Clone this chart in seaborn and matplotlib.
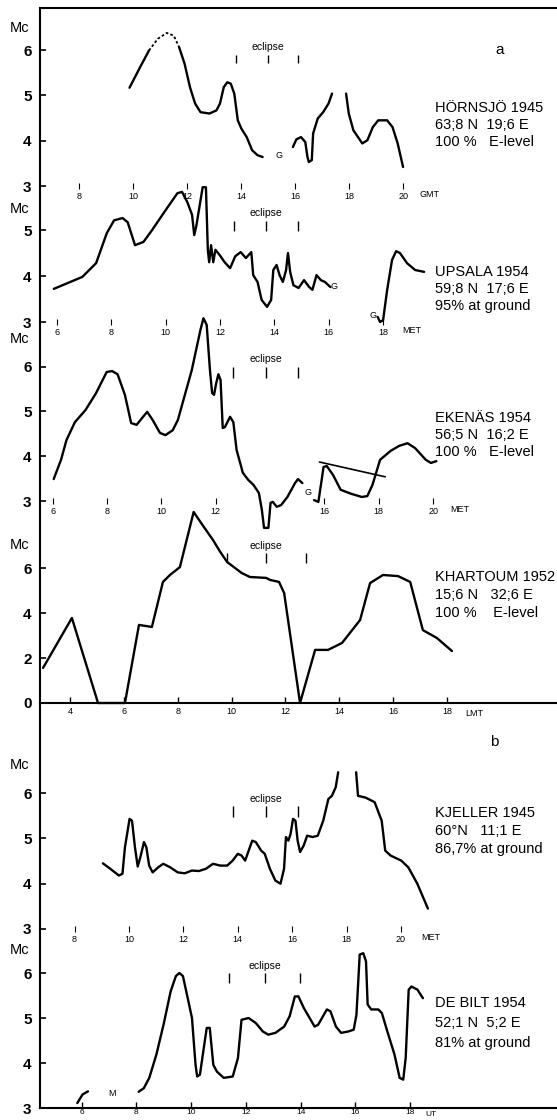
import matplotlib
matplotlib.use('Agg')
import matplotlib.pyplot as plt
import seaborn as sns

# Values: time of day (hours) and critical frequency (Mc)

# Hornsjo 1945 (GMT)
HORN_A_T = [9.87, 10.26, 10.59]
HORN_A_MC = [5.17, 5.62, 5.99]
HORN_DASH_T = [10.59, 10.92, 11.25, 11.51, 11.71]
HORN_DASH_MC = [5.99, 6.25, 6.38, 6.32, 6.06]
HORN_B_T = [11.71, 11.91, 12.11, 12.3, 12.5, 12.83, 13.09, 13.22, 13.36, 13.49,
            13.62, 13.75, 13.88, 14.01, 14.21, 14.41, 14.61, 14.8]
HORN_B_MC = [6.06, 5.7, 5.18, 4.82, 4.63, 4.6, 4.67, 4.82, 5.18, 5.29,
             5.26, 5.04, 4.45, 4.27, 4.08, 3.79, 3.68, 3.64]
HORN_C_T = [15.92, 16.05, 16.22, 16.38, 16.46, 16.51, 16.62, 16.67, 16.84, 17.04, 17.24, 17.37]
HORN_C_MC = [3.86, 4.03, 4.08, 3.97, 3.64, 3.53, 3.57, 4.16, 4.49, 4.63, 4.82, 5.04]
HORN_D_T = [17.89, 17.99, 18.16, 18.49, 18.68, 18.88, 19.08, 19.41, 19.61, 19.8, 20.0]
HORN_D_MC = [5.04, 4.6, 4.23, 3.94, 4.01, 4.3, 4.45, 4.45, 4.3, 3.94, 3.42]
HORN_ECLIPSE = [13.82, 15.0, 16.12]

# Upsala 1954 (MET)
UPS_A_T = [5.88, 6.93, 7.44, 7.83, 8.10, 8.41, 8.6, 8.87, 9.18, 9.5, 9.96, 10.43, 10.6,
           10.8, 10.97, 11.05, 11.13, 11.36, 11.48, 11.55, 11.6, 11.67, 11.75, 11.83,
           11.98, 12.17, 12.37, 12.56, 12.76, 12.95, 13.15, 13.22, 13.38, 13.53, 13.73,
           13.88, 13.96, 14.08, 14.19, 14.31, 14.43, 14.5, 14.58, 14.7, 14.89, 15.09,
           15.28, 15.4, 15.55, 15.71, 15.86, 16.06]
UPS_A_MC = [3.72, 3.98, 4.28, 4.93, 5.21, 5.26, 5.17, 4.67, 4.74, 5.0, 5.4, 5.8, 5.83,
            5.6, 5.33, 4.89, 5.1, 5.93, 5.93, 4.57, 4.3, 4.67, 4.3, 4.57,
            4.46, 4.3, 4.17, 4.43, 4.52, 4.39, 4.52, 4.02, 3.87, 3.48, 3.33,
            3.48, 4.13, 4.24, 4.02, 3.87, 4.13, 4.5, 4.09, 3.8, 3.74, 3.91,
            3.76, 3.7, 4.02, 3.91, 3.87, 3.76]
UPS_B_T = [17.8, 17.89, 18.0, 18.15, 18.33, 18.48, 18.62, 18.88, 19.18, 19.51]
UPS_B_MC = [3.11, 3.0, 3.04, 3.7, 4.35, 4.54, 4.5, 4.28, 4.13, 4.09]
UPS_ECLIPSE = [12.52, 13.68, 14.86]

# Ekenas 1954 (MET)
EKE_A_T = [6.04, 6.31, 6.51, 6.82, 7.21, 7.6, 7.99, 8.19, 8.39, 8.66, 8.89, 9.09, 9.29,
           9.48, 9.68, 9.95, 10.15, 10.42, 10.61, 11.12, 11.44, 11.55, 11.67, 11.79,
           11.87, 11.94, 12.02, 12.1, 12.18, 12.26, 12.34, 12.53, 12.65, 12.77, 13.0,
           13.2, 13.39, 13.59, 13.7, 13.78, 13.94, 14.02, 14.1, 14.25, 14.41, 14.64,
           14.92, 15.03, 15.19]
EKE_A_MC = [3.49, 3.92, 4.36, 4.76, 5.03, 5.41, 5.88, 5.9, 5.83, 5.37, 4.74, 4.7, 4.85,
            4.99, 4.81, 4.52, 4.47, 4.58, 4.81, 5.92, 6.82, 7.08, 6.93, 5.92,
            5.41, 5.37, 5.63, 5.83, 5.7, 4.63, 4.65, 4.88, 4.76, 4.14, 3.63,
            3.47, 3.36, 3.18, 2.8, 2.4, 2.4, 2.96, 2.98, 2.87, 2.91, 3.09,
            3.4, 3.49, 3.4]
EKE_B_T = [15.62, 15.78, 15.9, 15.97, 16.09, 16.32, 16.6, 16.99, 17.38, 17.58, 17.77,
           18.05, 18.44, 18.75, 19.06, 19.34, 19.73, 19.92, 20.12]
EKE_B_MC = [3.02, 2.98, 3.47, 3.76, 3.78, 3.58, 3.25, 3.16, 3.09, 3.11, 3.36,
            3.92, 4.12, 4.23, 4.29, 4.18, 3.92, 3.85, 3.89]
EKE_LINE_T = [15.82, 18.24]
EKE_LINE_MC = [3.87, 3.54]
EKE_ECLIPSE = [12.62, 13.86, 15.03]

# Khartoum 1952 (LMT)
KHA_T = [3.0, 4.07, 5.04, 6.04, 6.56, 7.04, 7.45, 7.71, 8.08, 8.59, 8.92, 9.31, 9.57,
         9.83, 10.37, 10.68, 11.28, 11.43, 11.76, 11.95, 12.54, 13.1, 13.58, 14.1,
         14.77, 15.14, 15.62, 16.18, 16.63, 17.1, 17.62, 18.18]
KHA_MC = [1.56, 3.78, 0.0, 0.0, 3.47, 3.38, 5.38, 5.69, 6.04, 8.49, 7.91, 7.24, 6.73,
          6.27, 5.78, 5.6, 5.56, 5.47, 5.38, 4.89, 0.0, 2.36, 2.36, 2.67,
          3.69, 5.33, 5.69, 5.64, 5.38, 3.24, 2.89, 2.31]
KHA_ECLIPSE = [9.84, 11.29, 12.77]

# Kjeller 1945 (MET)
KJE_A_T = [9.04, 9.31, 9.63, 9.76, 9.85, 10.02, 10.11, 10.22, 10.32, 10.42, 10.55, 10.64,
           10.74, 10.87, 11.07, 11.26, 11.52, 11.79, 12.05, 12.31, 12.57, 12.83, 13.09,
           13.35, 13.61, 13.81, 14.0, 14.14, 14.27, 14.4, 14.53, 14.66, 14.86, 14.99,
           15.18, 15.38, 15.57, 15.7, 15.77, 15.86, 15.94, 16.03, 16.12, 16.2, 16.29,
           16.42, 16.55, 16.75, 16.94, 17.14, 17.33, 17.46, 17.6, 17.69]
KJE_A_MC = [4.45, 4.33, 4.18, 4.22, 4.8, 5.43, 5.39, 4.8, 4.38, 4.59, 4.92, 4.8,
            4.4, 4.25, 4.36, 4.44, 4.36, 4.25, 4.23, 4.29, 4.28, 4.33, 4.44,
            4.4, 4.4, 4.51, 4.66, 4.62, 4.51, 4.73, 4.95, 4.92, 4.73, 4.66,
            4.33, 4.07, 4.0, 4.33, 5.03, 4.95, 5.1, 5.43, 5.39, 4.95, 4.7,
            4.84, 5.06, 5.03, 5.06, 5.39, 5.87, 5.94, 6.13, 6.46]
KJE_B_T = [18.35, 18.42, 18.7, 19.03, 19.29, 19.42, 19.62, 20.01, 20.27, 20.6, 20.99]
KJE_B_MC = [6.46, 5.94, 5.9, 5.8, 5.39, 4.73, 4.62, 4.51, 4.36, 4.0, 3.45]
KJE_ECLIPSE = [13.81, 15.02, 16.2]

# De Bilt 1954 (UT)
DEB_A_T = [5.84, 6.03, 6.23]
DEB_A_MC = [3.11, 3.3, 3.37]
DEB_B_T = [8.08, 8.27, 8.47, 8.73, 8.99, 9.25, 9.44, 9.57, 9.7, 9.9, 10.03, 10.16, 10.22,
           10.32, 10.48, 10.57, 10.68, 10.81, 10.94, 11.19, 11.52, 11.71, 11.84, 12.1,
           12.36, 12.62, 12.82, 13.08, 13.4, 13.6, 13.79, 13.92, 14.12, 14.51, 14.64,
           14.96, 15.09, 15.29, 15.48, 15.74, 15.94, 16.04, 16.16, 16.29, 16.39, 16.45,
           16.58, 16.84, 16.97, 17.17, 17.43, 17.62, 17.75, 17.84, 17.95, 18.05, 18.27,
           18.47]
DEB_B_MC = [3.36, 3.44, 3.67, 4.19, 4.85, 5.59, 5.93, 6.0, 5.93, 5.37, 5.0, 3.96, 3.7,
            3.74, 4.41, 4.78, 4.78, 3.96, 3.81, 3.67, 3.7, 4.11, 4.96, 5.0,
            4.89, 4.7, 4.63, 4.67, 4.81, 5.04, 5.48, 5.48, 5.22, 4.81, 4.85,
            5.19, 5.15, 4.81, 4.67, 4.7, 4.74, 5.07, 6.41, 6.44, 6.26, 5.3,
            5.19, 5.19, 5.11, 4.7, 4.19, 3.67, 3.63, 4.11, 5.63, 5.7, 5.63,
            5.44]
DEB_ECLIPSE = [11.39, 12.69, 13.99]

STATION_TEXT = [
    ['HÖRNSJÖ 1945', '63;8 N  19;6 E', '100 %   E-level'],
    ['UPSALA 1954', '59;8 N  17;6 E', '95% at ground'],
    ['EKENÄS 1954', '56;5 N  16;2 E', '100 %   E-level'],
    ['KHARTOUM 1952', '15;6 N   32;6 E', '100 %    E-level'],
    ['KJELLER 1945', '60°N   11;1 E', '86,7% at ground'],
    ['DE BILT 1954', '52;1 N  5;2 E', '81% at ground'],
]

W, H = 557, 1120
LEFT = 40
INK = 'black'

sns.set_style('white', {'axes.edgecolor': INK, 'xtick.color': INK, 'ytick.color': INK,
                        'text.color': INK, 'axes.labelcolor': INK})
plt.rcParams['font.family'] = ['Liberation Sans', 'DejaVu Sans']

fig = plt.figure(figsize=(W / 100, H / 100), dpi=100)


def ftext(px, py, s, **kw):
    kw.setdefault('ha', 'center')
    kw.setdefault('va', 'center')
    fig.text(px / W, 1 - py / H, s, **kw)


def add_panel(top, bottom, xlim, ylim, xticks, yticks, axis_line=False, top_line=False):
    ax = fig.add_axes([LEFT / W, 1 - bottom / H, (W - LEFT) / W, (bottom - top) / H])
    ax.patch.set_alpha(0)
    ax.spines['right'].set_visible(False)
    ax.spines['top'].set_visible(top_line)
    ax.spines['bottom'].set_visible(axis_line)
    for side in ('left', 'top', 'bottom'):
        ax.spines[side].set_linewidth(1.5)
    ax.set_xticks(xticks)
    ax.set_xticklabels([str(t) for t in xticks])
    ax.set_yticks(yticks)
    ax.set_yticklabels([str(v) for v in yticks], fontweight='bold')
    ax.tick_params(axis='y', left=True, direction='in', length=4, width=1.2,
                   pad=6, labelsize=11)
    if axis_line:
        ax.tick_params(axis='x', bottom=True, direction='in', length=4, width=1,
                       pad=3, labelsize=6.5)
    else:
        ax.tick_params(axis='x', bottom=True, direction='inout', length=5, width=0.8,
                       pad=1.5, labelsize=6.5)
    ax.set_xlim(*xlim)
    ax.set_ylim(*ylim)
    return ax


def curve(ax, t, mc, **kw):
    kw.setdefault('lw', 1.7)
    sns.lineplot(x=t, y=mc, ax=ax, sort=False, estimator=None, color=INK,
                 clip_on=False, **kw)


def eclipse(ax, times, y0, y1, ytext):
    ax.vlines(times, y0, y1, color=INK, lw=1, clip_on=False)
    ax.text(times[1], ytext, 'eclipse', ha='center', va='center', fontsize=7.5)


def finish(ax, xlim, ylim):
    ax.set_xlim(*xlim)
    ax.set_ylim(*ylim)
    ax.set_xlabel('')
    ax.set_ylabel('')


# panel a: Hornsjo
lim1 = ((6.556, 25.70), (3, 6.93))
ax1 = add_panel(8, 186, *lim1, [8, 10, 12, 14, 16, 18, 20], [3, 4, 5, 6], top_line=True)
curve(ax1, HORN_A_T, HORN_A_MC)
curve(ax1, HORN_DASH_T, HORN_DASH_MC, lw=1.3, linestyle=(0, (1.5, 1.2)))
curve(ax1, HORN_B_T, HORN_B_MC)
curve(ax1, HORN_C_T, HORN_C_MC)
curve(ax1, HORN_D_T, HORN_D_MC)
eclipse(ax1, HORN_ECLIPSE, 5.72, 5.89, 6.07)
ax1.text(15.39, 3.68, 'G', fontsize=6.5, ha='center', va='center')
finish(ax1, *lim1)

# Upsala
lim2 = ((5.374, 24.40), (3, 5.957))
ax2 = add_panel(186, 322, *lim2, [6, 8, 10, 12, 14, 16, 18], [3, 4, 5])
curve(ax2, UPS_A_T, UPS_A_MC)
curve(ax2, UPS_B_T, UPS_B_MC)
eclipse(ax2, UPS_ECLIPSE, 4.98, 5.2, 5.37)
ax2.text(16.2, 3.78, 'G', fontsize=6.5, ha='center', va='center')
ax2.text(17.63, 3.15, 'G', fontsize=6.5, ha='center', va='center')
finish(ax2, *lim2)

# Ekenas
lim3 = ((5.536, 24.56), (3, 6.996))
ax3 = add_panel(322, 501, *lim3, [6, 8, 10, 12, 16, 18, 20], [3, 4, 5, 6])
curve(ax3, EKE_A_T, EKE_A_MC)
curve(ax3, EKE_B_T, EKE_B_MC)
curve(ax3, EKE_LINE_T, EKE_LINE_MC, lw=1.2)
eclipse(ax3, EKE_ECLIPSE, 5.75, 5.99, 6.17)
ax3.text(15.4, 3.18, 'G', fontsize=6.5, ha='center', va='center')
finish(ax3, *lim3)

# Khartoum
lim4 = ((2.886, 22.08), (0, 8.978))
ax4 = add_panel(501, 703, *lim4, [4, 6, 8, 10, 12, 14, 16, 18], [0, 2, 4, 6], axis_line=True)
curve(ax4, KHA_T, KHA_MC)
eclipse(ax4, KHA_ECLIPSE, 6.22, 6.67, 6.98)
finish(ax4, *lim4)

# panel b: Kjeller
lim5 = ((6.728, 25.735), (3, 7.989))
ax5 = add_panel(703, 929, *lim5, [8, 10, 12, 14, 16, 18, 20], [3, 4, 5, 6])
curve(ax5, KJE_A_T, KJE_A_MC)
curve(ax5, KJE_B_T, KJE_B_MC)
eclipse(ax5, KJE_ECLIPSE, 5.47, 5.72, 5.87)
finish(ax5, *lim5)

# De Bilt (bottom axis sits near the lower edge, labels kept small so they fit)
lim6 = ((4.476, 23.37), (3, 6.978))
ax6 = add_panel(929, 1108, *lim6, [6, 8, 10, 12, 14, 16, 18], [3, 4, 5, 6], axis_line=True)
ax6.tick_params(axis='x', pad=0.5, labelsize=6)
curve(ax6, DEB_A_T, DEB_A_MC)
curve(ax6, DEB_B_T, DEB_B_MC)
eclipse(ax6, DEB_ECLIPSE, 5.78, 6.0, 6.16)
ax6.text(7.1, 3.32, 'M', fontsize=6.5, ha='center', va='center')
finish(ax6, *lim6)

# axis unit labels, "Mc" labels, panel letters and station captions
for px, py, unit, size in [(429, 195, 'GMT', 6.5), (412, 330, 'MET', 6.5),
                           (460, 509, 'MET', 6.5), (474, 713, 'LMT', 6.5),
                           (431, 937, 'MET', 6.5), (431, 1114, 'UT', 6)]:
    ftext(px, py, unit, fontsize=size)

for py in [28, 209, 339, 545, 765, 950]:
    ftext(20, py, 'Mc', fontsize=10.5)

ftext(500, 50, 'a', fontsize=11)
ftext(494, 742, 'b', fontsize=11)

caption_rows = [(108, 17), (272, 17), (418, 17), (577, 18), (813, 18), (1003, 20)]
for (py, step), lines in zip(caption_rows, STATION_TEXT):
    for i, line in enumerate(lines):
        ftext(435, py + i * step, line, ha='left', fontsize=10.5)

fig.savefig('out.png', dpi=100)
